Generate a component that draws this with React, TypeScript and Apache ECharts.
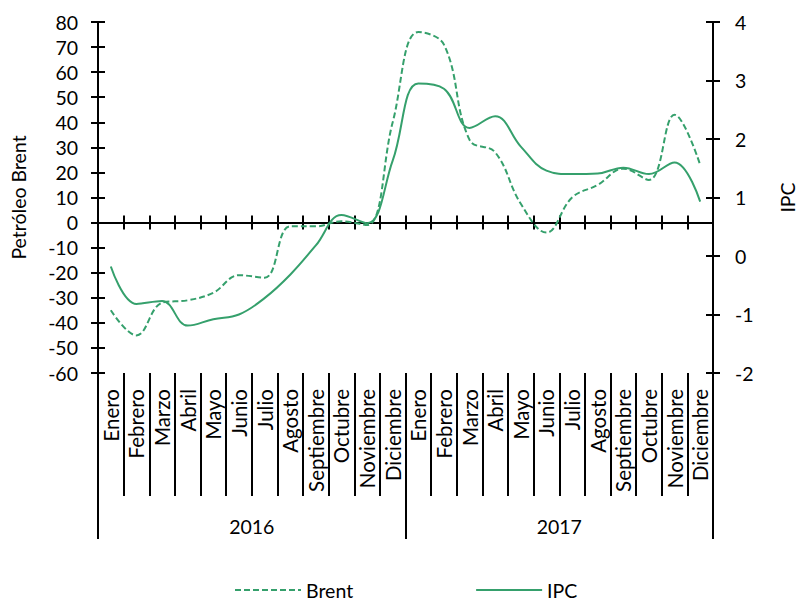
import React, { useEffect, useRef } from 'react';
import * as echarts from 'echarts';

const months = ['Enero', 'Febrero', 'Marzo', 'Abril', 'Mayo', 'Junio', 'Julio', 'Agosto', 'Septiembre', 'Octubre', 'Noviembre', 'Diciembre'];
const categories = [...months, ...months];
const years = ['2016', '2017'];

const brent = [-35, -45, -32, -31, -28, -21, -22, -1.5, -1.5, 0.5, -1, 40,
  76, 71, 33, 28, 7.5, -4, 10, 15, 21.5, 17, 43, 23];
const ipc = [-0.18, -0.82, -0.77, -1.19, -1.08, -1.0, -0.72, -0.32, 0.18, 0.7, 0.56, 1.63,
  2.95, 2.86, 2.19, 2.39, 1.87, 1.46, 1.4, 1.41, 1.51, 1.4, 1.6, 0.93];

const leftMin = -60, leftMax = 80, leftStep = 10;
const rightMin = -2, rightMax = 4, rightStep = 1;

export default function App() {
  const ref = useRef<HTMLDivElement>(null);
  useEffect(() => {
    const chart = echarts.init(ref.current!, null, { renderer: 'svg' });
    const font = 'Lato';
    const green = '#35a06c';
    const black = '#000';
    const txt = { color: black, fontSize: 19.5, fontFamily: font };
    const monthTxt = { color: black, fontSize: 20.5, fontFamily: font };
    const line = { color: black, width: 2 };
    chart.setOption({
      animation: false,
      textStyle: { fontFamily: font },
      grid: { left: 98, right: 84, top: 22, bottom: 230, outerBoundsMode: 'none', containLabel: false },
      legend: {
        left: 234, top: 580, padding: 0, itemWidth: 66, itemHeight: 12, itemGap: 122, itemTextGap: 10,
        textStyle: { ...txt, lineHeight: 20 }, data: ['Brent', 'IPC'], itemStyle: { opacity: 0 },
      },
      xAxis: [
        {
          type: 'category', data: categories, position: 'bottom', boundaryGap: true,
          axisLine: { show: true, onZero: true, onZeroAxisIndex: 0, lineStyle: line },
          axisTick: { show: true, inside: true, length: 7, interval: 0, lineStyle: line },
          axisLabel: { show: false }, splitLine: { show: false },
        },
        {
          type: 'category', data: categories, position: 'bottom', boundaryGap: true,
          axisLine: { show: true, onZero: true, onZeroAxisIndex: 0, lineStyle: line },
          axisTick: { show: true, inside: false, length: 7, interval: 0, lineStyle: line },
          axisLabel: { show: false }, splitLine: { show: false },
        },
        {
          type: 'category', data: categories, position: 'bottom', boundaryGap: true,
          axisLine: { show: false, onZero: false },
          axisTick: { show: true, length: 123, interval: 0, lineStyle: line },
          axisLabel: { show: true, rotate: 90, margin: 16, interval: 0, ...monthTxt },
          splitLine: { show: false },
        },
        {
          type: 'category', data: years, position: 'bottom', boundaryGap: true,
          axisLine: { show: false, onZero: false },
          axisTick: { show: true, length: 166, interval: 0, lineStyle: line },
          axisLabel: { show: true, margin: 143, interval: 0, ...txt },
          splitLine: { show: false },
        },
      ],
      yAxis: [
        {
          type: 'value', position: 'left', min: leftMin, max: leftMax, interval: leftStep,
          axisLine: { show: true, onZero: false, lineStyle: line },
          axisTick: { show: true, inside: false, length: 7, lineStyle: line },
          axisLabel: { margin: 20, ...txt }, splitLine: { show: false },
          name: 'Petróleo Brent', nameLocation: 'middle', nameGap: 70, nameTextStyle: txt,
        },
        {
          type: 'value', position: 'right', min: rightMin, max: rightMax, interval: rightStep,
          axisLine: { show: true, onZero: false, lineStyle: line },
          axisTick: { show: true, inside: false, length: 7, lineStyle: line },
          axisLabel: { margin: 22, ...txt }, splitLine: { show: false },
          name: 'IPC', nameLocation: 'middle', nameGap: 64, nameTextStyle: txt,
        },
        {
          type: 'value', position: 'left', min: leftMin, max: leftMax, interval: leftStep,
          axisLine: { show: false, onZero: false },
          axisTick: { show: true, inside: true, length: 7, lineStyle: line },
          axisLabel: { show: false }, splitLine: { show: false },
        },
        {
          type: 'value', position: 'right', min: rightMin, max: rightMax, interval: rightStep,
          axisLine: { show: false, onZero: false },
          axisTick: { show: true, inside: true, length: 7, lineStyle: line },
          axisLabel: { show: false }, splitLine: { show: false },
        },
      ],
      series: [
        {
          name: 'Brent', type: 'line', data: brent, xAxisIndex: 0, yAxisIndex: 0,
          smooth: 0.4, symbol: 'none', showSymbol: false,
          lineStyle: { color: green, width: 2, type: [6, 3] }, itemStyle: { color: green },
        },
        {
          name: 'IPC', type: 'line', data: ipc, xAxisIndex: 0, yAxisIndex: 1,
          smooth: 0.4, symbol: 'none', showSymbol: false,
          lineStyle: { color: green, width: 2, type: 'solid' }, itemStyle: { color: green },
        },
      ],
    });
    return () => chart.dispose();
  }, []);
  return <div ref={ref} style={{ position: 'absolute', left: 0, top: 0, width: 797, height: 603 }} />;
}
